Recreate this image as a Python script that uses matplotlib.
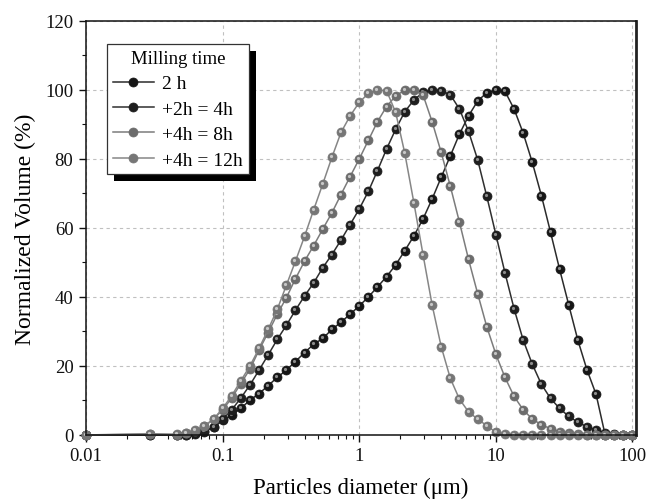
import matplotlib
matplotlib.use('Agg')
import matplotlib.pyplot as plt
import matplotlib.transforms as mtransforms
from matplotlib import font_manager
from matplotlib.patches import Rectangle
from matplotlib.ticker import FixedLocator, FixedFormatter, MultipleLocator, LogLocator, NullFormatter

plt.rcParams['font.family'] = ['Liberation Serif', 'DejaVu Serif']

# particle size classes (um)
diameter = [0.01, 0.0293,
            0.0464, 0.0541, 0.0631, 0.0736, 0.0858,
            0.1, 0.1166, 0.1359, 0.1585, 0.1848, 0.2154, 0.2512, 0.2929, 0.3415, 0.3981,
            0.4642, 0.5412, 0.631, 0.7356, 0.8577,
            1.0, 1.166, 1.359, 1.585, 1.848, 2.154, 2.512, 2.929, 3.415, 3.981,
            4.642, 5.412, 6.31, 7.356, 8.577,
            10.0, 11.66, 13.59, 15.85, 18.48, 21.54, 25.12, 29.29, 34.15, 39.81,
            46.42, 54.12, 63.1, 73.56, 85.77, 100.0]

# normalized volume (%) for each milling time
vol_2h = [0, 0,
          0, 0, 0.4, 1.0, 2.2,
          4.2, 5.8, 7.7, 10.1, 12.0, 14.3, 16.7, 18.8, 21.3, 23.9, 26.3, 28.0, 30.6, 32.7, 35.0,
          37.4, 40.0, 42.9, 45.9, 49.3, 53.4, 57.7, 62.6, 68.4, 74.7, 80.9, 87.2, 92.5, 96.8, 99.2,
          100.0, 99.6, 94.5, 87.5, 79.0, 69.4, 58.8, 48.0, 37.7, 27.5, 18.9, 11.8, 0, 0, 0, 0]
vol_4h = [0, 0,
          0, 0.1, 0.5, 1.1, 2.2,
          4.6, 7.3, 10.7, 14.5, 18.8, 23.2, 27.7, 31.8, 36.2, 40.3, 44.1, 48.5, 52.3, 56.5, 61.0,
          65.5, 70.6, 76.6, 82.9, 88.6, 93.7, 97.1, 99.3, 100.0, 99.8, 98.6, 94.5, 88.0, 79.8, 69.2,
          58.1, 47.0, 36.6, 27.5, 20.5, 14.7, 10.6, 7.7, 5.4, 3.7, 2.4, 1.4, 0.7, 0.2, 0, 0]
vol_8h = [0, 0.2,
          0.1, 0.5, 1.2, 2.5, 4.6,
          7.3, 10.7, 14.9, 19.1, 24.6, 29.7, 35.0, 39.8, 45.3, 50.4, 54.9, 59.7, 64.4, 69.7, 74.9,
          80.0, 85.4, 90.8, 95.2, 98.3, 100.0, 100.0, 98.6, 90.8, 81.9, 72.1, 61.7, 50.9, 41.0, 31.4,
          23.4, 16.7, 11.2, 7.3, 4.6, 3.0, 1.8, 1.0, 0.5, 0.2, 0, 0, 0, 0, 0, 0]
vol_12h = [0, 0.4,
           0.2, 0.6, 1.4, 2.7, 4.6,
           7.7, 11.4, 15.7, 20.0, 25.1, 30.6, 36.4, 43.4, 50.4, 57.6, 65.3, 72.8, 80.5, 87.7, 92.5,
           96.4, 99.0, 100.0, 99.8, 93.5, 81.7, 67.3, 52.3, 37.7, 25.6, 16.4, 10.4, 6.7, 4.6, 2.7,
           0.8, 0.2, 0, 0, 0, 0, 0, 0, 0, 0, 0, 0, 0, 0, 0, 0]

labels = ['2 h', '+2h = 4h', '+4h = 8h', '+4h = 12h']
series = [vol_2h, vol_4h, vol_8h, vol_12h]

# ball colours: body, line, highlight
face_colors = ['#161616', '#1e1e1e', '#6c6c6c', '#767676']
line_colors = ['#2b2b2b', '#2f2f2f', '#7c7c7c', '#868686']
shine_colors = ['#8c8c8c', '#8c8c8c', '#c4c4c4', '#c8c8c8']

# fixed serif font files for the legend
serif_file = font_manager.findfont(font_manager.FontProperties(family='Liberation Serif'))
entry_font = font_manager.FontProperties(fname=serif_file, size=14)
title_font = font_manager.FontProperties(fname=serif_file, size=13.5)

fig = plt.figure(figsize=(6.48, 5.02), dpi=100)
ax = fig.add_axes([0.1327, 0.1315, 0.8487, 0.8247])

# small offset so the highlight sits top-left on each ball
shine_tr = mtransforms.offset_copy(ax.transData, fig=fig, x=-1.0, y=1.0, units='dots')

handles = []
for i, vals in enumerate(series):
    z = 2 + i * 0.01
    ln, = ax.plot(diameter, vals, color=line_colors[i], lw=1.1, marker='o', ms=6.5,
                  mfc=face_colors[i], mec=face_colors[i], mew=0.5, clip_on=False, zorder=z)
    ax.plot(diameter, vals, ls='none', marker='o', ms=2.3, mfc=shine_colors[i], mec='none',
            transform=shine_tr, clip_on=False, zorder=z + 0.005)
    handles.append(ln)

ax.set_xscale('log')
ax.set_xlim(0.01, 106)
ax.set_ylim(0, 120)

ax.xaxis.set_major_locator(FixedLocator([0.01, 0.1, 1, 10, 100]))
ax.xaxis.set_major_formatter(FixedFormatter(['0.01', '0.1', '1', '10', '100']))
ax.xaxis.set_minor_locator(LogLocator(base=10, subs=[2, 3, 4, 5, 6, 7, 8, 9]))
ax.xaxis.set_minor_formatter(NullFormatter())
ax.yaxis.set_major_locator(MultipleLocator(20))
ax.yaxis.set_minor_locator(MultipleLocator(10))

ax.tick_params(which='both', direction='out', top=False, right=False, colors='#111111')
ax.tick_params(which='major', length=5, width=1, labelsize=13.5, pad=4)
ax.tick_params(which='minor', length=3, width=0.8)

ax.grid(True, which='major', color='#c0c0c0', ls=(0, (3, 3)), lw=0.8)
ax.set_axisbelow(True)

for s in ['left', 'bottom', 'top']:
    ax.spines[s].set_linewidth(1.1)
    ax.spines[s].set_color('#111111')
ax.spines['right'].set_linewidth(2.0)
ax.spines['right'].set_color('#222222')

ax.set_xlabel('Particles diameter (μm)', fontsize=16.5, labelpad=9)
ax.set_ylabel('Normalized Volume (%)', fontsize=17, labelpad=7)

leg = ax.legend(handles, labels, loc='upper left',
                bbox_to_anchor=(0.038, 0.944), borderaxespad=0, frameon=True,
                fancybox=False, framealpha=1, edgecolor='#333333', prop=entry_font,
                handlelength=2.1, handletextpad=0.45,
                labelspacing=0.4, borderpad=0.3, numpoints=1)
leg.get_frame().set_linewidth(0.9)
leg.set_title('Milling time', prop=title_font)

# black drop shadow behind the legend box
fig.canvas.draw()
box = leg.get_window_extent()
shadow = Rectangle((box.x0 + 7, box.y0 - 7), box.width, box.height,
                   transform=mtransforms.IdentityTransform(), facecolor='black',
                   edgecolor='none', zorder=4.9)
ax.add_artist(shadow)

plt.savefig('out.png', dpi=100)
